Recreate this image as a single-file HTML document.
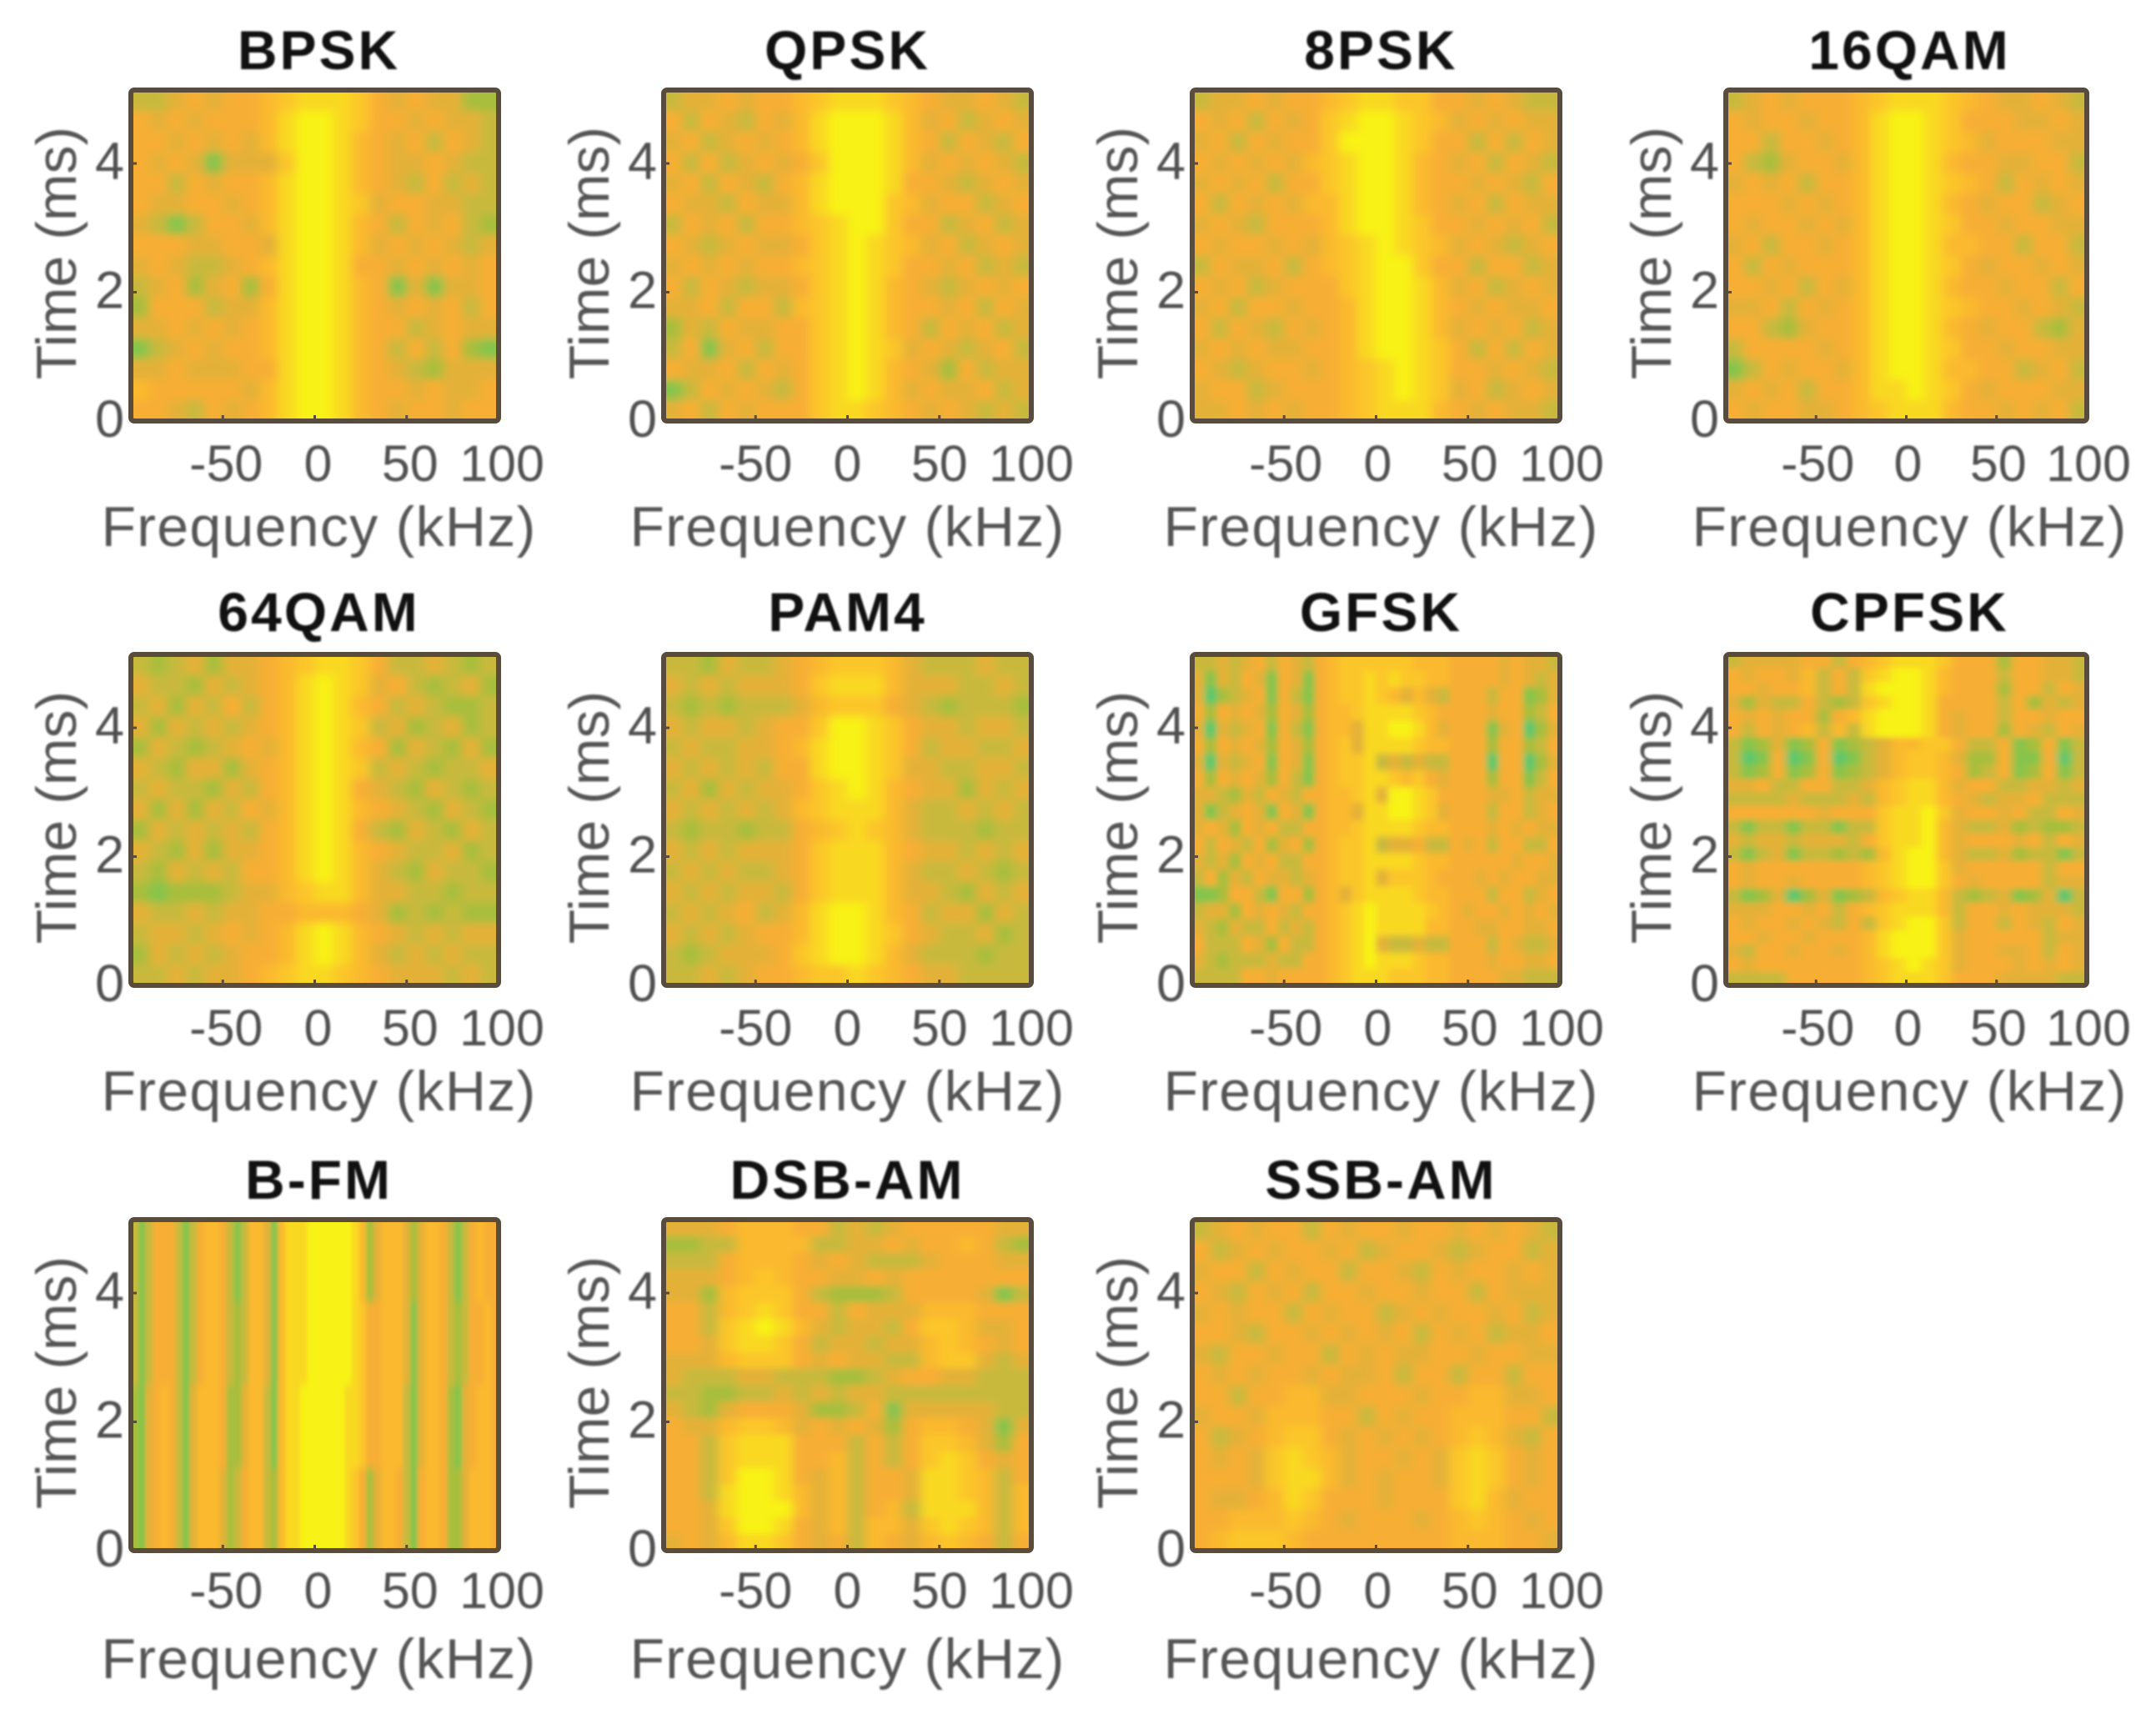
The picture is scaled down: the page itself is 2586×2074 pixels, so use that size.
<!DOCTYPE html>
<html lang="en">
<head>
<meta charset="utf-8">
<title>Spectrograms of modulation types</title>
<style>
html,body{margin:0;padding:0;background:#fff;width:2586px;height:2074px;overflow:hidden}
svg{display:block}
text{font-family:"Liberation Sans",Arial,sans-serif}
.tick{font-size:61px;fill:#505050}
.ytick{font-size:63px;fill:#505050}
.lab{font-size:68px;fill:#555;letter-spacing:1.3px}
.ylab{font-size:68px;fill:#555;letter-spacing:0}
.ttl{font-size:66px;font-weight:bold;fill:#111;letter-spacing:3px}
.soft{filter:blur(1.1px)}
</style>
</head>
<body>
<svg id="figure" xmlns="http://www.w3.org/2000/svg" width="2586" height="2074" viewBox="0 0 2586 2074"><defs id="defs"></defs></svg>
<script>
const panelTitles=["BPSK","QPSK","8PSK","16QAM","64QAM","PAM4","GFSK","CPFSK","B-FM","DSB-AM","SSB-AM"];
const freqTicks=[-50,0,50,100];
const timeTicks=[0,2,4];
const freqLimits=[-100,100];
const timeLimits=[0,5.14];
const colorScale=["#5cc86c","#86c44c","#a8be3e","#c8b93c","#e4b138","#f7ae34","#fab92f","#fbc62a","#f9d822","#f8f216"];

const bpskGrid=[
[3,3,4,5,4,5,5,6,7,8,8,8,7,5,4,5,4,4,2,2],
[5,4,5,4,5,5,5,6,8,9,9,8,7,5,5,4,5,4,4,3],
[5,5,4,5,4,5,4,6,8,9,9,8,6,5,4,5,3,5,4,3],
[5,4,5,4,1,4,4,4,7,9,9,8,6,5,4,4,5,4,3,3],
[5,5,3,5,4,5,5,6,8,9,9,8,6,5,4,3,5,3,4,3],
[5,4,4,5,5,4,5,6,8,9,9,8,7,4,5,5,4,4,3,3],
[4,3,1,3,5,5,4,6,8,9,9,8,6,5,3,5,4,5,3,2],
[5,5,5,4,4,5,5,4,8,9,9,8,6,4,5,4,5,4,3,4],
[4,5,4,3,3,4,5,6,8,9,9,8,5,5,4,5,4,5,4,5],
[3,4,5,2,4,5,2,5,8,9,9,8,6,5,1,4,1,4,4,5],
[2,5,5,5,3,4,4,6,8,9,9,8,6,5,4,5,4,5,3,5],
[4,4,5,4,5,4,5,6,8,9,9,8,6,5,5,3,4,5,4,4],
[1,3,4,5,4,5,5,6,8,9,9,8,6,5,3,5,3,5,2,1],
[4,4,5,4,4,4,5,5,8,9,9,8,6,5,4,3,2,4,4,4],
[6,5,5,5,5,5,4,6,8,9,9,8,6,5,5,4,5,4,4,5],
[5,5,4,3,5,4,5,6,8,9,9,8,6,5,4,5,5,4,5,5]];

const qpskGrid=[
[3,4,4,5,4,5,5,6,7,8,8,8,7,6,5,4,4,5,4,3],
[5,3,5,4,3,5,4,6,8,9,9,9,8,6,4,5,3,4,5,4],
[4,5,3,4,5,4,5,6,8,9,9,9,8,6,5,3,5,4,3,5],
[5,3,5,3,4,5,4,5,7,9,9,9,8,6,4,5,4,5,4,3],
[4,5,3,5,4,3,5,6,8,9,9,9,8,5,5,4,3,4,5,4],
[5,4,4,3,5,4,4,6,8,9,9,9,7,6,4,5,5,3,4,5],
[3,5,4,5,3,5,5,6,7,8,9,9,7,5,5,3,4,5,3,4],
[5,4,3,4,5,4,4,5,7,8,9,8,7,6,4,5,3,4,5,4],
[4,5,4,5,4,5,5,6,7,8,9,8,7,5,5,4,5,3,4,3],
[5,3,5,4,3,4,4,5,7,8,9,8,6,5,4,3,4,5,4,5],
[4,4,5,3,5,5,3,6,7,8,9,8,6,5,5,4,5,3,5,4],
[2,4,3,5,4,4,5,5,7,8,9,8,6,5,3,5,4,5,3,4],
[3,5,1,4,5,3,5,5,7,8,9,8,7,4,5,4,3,4,5,3],
[5,4,4,5,3,5,4,5,7,8,9,8,6,5,4,2,5,3,4,4],
[1,3,5,4,5,4,3,5,7,8,9,8,6,4,5,4,4,5,3,4],
[4,5,3,5,4,5,5,5,7,8,8,7,6,5,4,5,4,3,4,3]];

const psk8Grid=[
[3,4,4,5,4,5,5,6,7,8,8,7,7,5,5,4,5,4,3,3],
[5,4,5,3,5,4,5,7,8,9,9,8,7,6,4,5,4,5,4,4],
[4,5,3,5,4,5,5,7,9,9,9,8,7,5,5,3,5,3,5,4],
[5,4,5,4,5,4,6,7,8,9,9,8,6,5,4,5,3,5,4,3],
[4,5,4,5,3,5,5,7,8,9,9,8,6,5,5,4,5,4,3,5],
[5,3,5,4,5,4,6,6,8,9,9,8,6,5,4,5,3,5,4,4],
[4,5,4,3,5,5,5,6,8,9,9,8,7,5,5,4,5,4,5,3],
[5,4,5,5,4,5,4,6,7,8,9,8,7,6,4,5,4,3,4,5],
[3,5,4,4,5,3,5,6,7,8,9,9,7,5,5,3,5,5,3,4],
[5,4,5,3,4,5,5,5,7,8,9,9,8,6,4,5,3,4,5,4],
[4,5,3,5,5,4,5,5,6,8,9,9,8,6,5,4,5,4,4,5],
[5,3,5,4,3,5,4,5,6,8,9,9,8,6,4,5,4,5,3,4],
[4,5,4,5,4,4,5,5,6,8,9,9,8,7,5,3,5,3,5,4],
[5,4,3,4,5,5,4,5,6,7,8,9,8,7,5,5,4,5,4,3],
[4,5,5,3,4,5,5,5,6,7,8,9,8,7,4,5,3,4,5,4],
[4,4,5,4,5,4,5,5,6,7,8,8,8,6,5,4,5,4,4,3]];

const qam16Grid=[
[3,4,5,4,5,5,5,6,7,8,8,8,7,6,5,4,4,5,4,3],
[5,4,5,5,4,5,5,6,8,9,9,8,7,5,5,5,4,4,5,4],
[5,5,3,5,5,4,5,6,8,9,9,8,7,6,4,5,5,5,4,4],
[5,3,2,4,5,5,4,6,8,9,9,8,6,5,5,4,4,5,5,3],
[4,5,4,5,3,5,5,6,8,9,9,8,7,6,5,3,5,4,5,4],
[5,5,5,4,5,4,5,6,8,9,9,8,6,5,4,5,5,3,4,5],
[5,4,5,5,4,5,4,6,8,9,9,8,7,5,5,4,5,5,4,4],
[4,5,3,5,5,4,5,6,8,9,9,8,6,6,5,5,3,5,5,3],
[5,3,5,4,5,5,5,6,8,9,9,8,7,5,4,5,5,4,5,4],
[5,5,4,5,3,5,4,6,8,9,9,8,6,5,5,4,5,5,3,5],
[4,4,5,3,5,4,5,6,8,9,9,8,7,6,5,5,4,5,4,3],
[5,5,3,2,4,5,5,6,8,9,9,8,6,5,4,5,5,3,2,4],
[3,5,5,5,5,4,5,6,8,9,9,8,7,5,5,4,5,5,4,4],
[1,3,5,4,5,5,4,6,8,9,9,8,6,6,5,5,3,4,5,3],
[4,5,4,5,3,5,5,6,8,8,9,8,7,5,4,5,5,5,4,4],
[5,4,5,5,4,4,5,6,7,8,8,8,6,5,5,4,5,4,5,3]];

const qam64Grid=[
[3,2,3,4,2,4,4,5,6,7,8,8,7,5,3,3,4,3,2,3],
[4,3,3,2,4,3,4,5,6,8,9,8,7,4,5,3,2,3,4,2],
[3,4,2,4,3,5,3,5,6,8,9,8,6,5,3,4,3,2,2,3],
[4,2,4,3,4,3,4,5,6,8,9,8,7,3,4,2,3,4,2,3],
[2,4,3,2,3,4,5,4,6,8,9,8,6,5,2,4,3,2,4,2],
[4,3,2,4,4,2,4,5,6,8,9,8,7,3,4,3,2,3,3,4],
[3,4,3,3,2,4,3,5,6,8,9,8,5,4,3,2,4,3,2,3],
[4,2,4,2,4,3,5,4,6,8,9,8,6,5,4,3,2,4,3,2],
[2,4,3,4,3,4,3,5,6,8,9,8,5,3,2,4,3,2,4,3],
[4,3,2,4,2,4,4,5,6,8,9,8,6,5,4,3,3,4,2,3],
[3,2,4,3,4,3,5,5,6,8,9,8,6,4,3,2,4,3,3,2],
[2,1,2,2,2,3,4,4,6,7,8,8,6,4,4,3,3,2,3,3],
[4,3,3,4,3,4,4,5,5,6,6,6,5,4,2,3,2,3,2,2],
[3,4,4,3,4,5,4,5,6,8,9,8,6,5,4,3,4,3,4,4],
[2,4,3,4,3,4,5,5,6,8,9,8,6,4,3,4,3,4,3,3],
[3,3,4,3,4,4,5,6,7,8,8,7,6,5,4,4,4,3,4,3]];

const pam4Grid=[
[3,3,2,4,3,3,4,5,6,7,7,7,6,4,3,3,3,4,3,3],
[4,3,4,3,4,4,4,5,7,8,8,8,6,4,4,4,3,3,4,3],
[3,2,3,2,3,3,3,4,6,7,7,7,5,4,3,2,3,3,3,2],
[4,3,4,4,3,4,5,5,7,9,9,8,7,5,4,4,3,4,4,3],
[3,4,3,3,4,4,5,6,8,9,9,8,7,5,3,4,4,3,3,4],
[4,3,4,3,4,3,5,5,8,9,9,8,7,4,4,3,3,4,4,3],
[3,4,2,4,3,4,4,5,7,8,9,8,6,5,4,4,2,4,3,4],
[4,3,4,3,4,3,4,6,7,8,8,8,6,4,3,3,4,3,4,3],
[3,2,3,3,2,3,3,5,6,7,8,7,6,4,3,3,3,2,3,3],
[4,3,4,3,4,4,4,5,7,8,8,8,6,5,4,4,3,4,3,4],
[3,4,3,4,3,3,4,5,7,8,8,8,6,4,3,3,4,3,2,3],
[4,3,4,3,4,4,3,5,7,8,8,8,6,4,4,3,2,4,3,4],
[3,4,3,4,5,3,4,6,8,9,9,8,6,5,3,4,4,2,4,3],
[4,3,4,3,4,5,5,6,8,9,9,8,7,5,4,3,3,4,2,3],
[3,2,3,4,4,4,5,7,8,9,9,8,6,4,3,3,3,2,3,3],
[3,3,4,3,4,5,5,6,7,7,8,7,6,5,4,4,3,3,3,3]];

const gfskGrid=[
[3,3,4,3,4,5,3,5,4,3,5,6,7,7,7,7,7,7,6,6,6,5,5,5,5,4,5,4,4,3],
[4,1,4,3,5,4,1,5,4,1,5,6,7,7,8,7,8,7,7,6,6,5,5,5,5,4,5,4,3,4],
[4,0,2,3,4,5,1,5,3,1,5,6,7,7,8,7,6,4,6,4,3,5,5,5,3,5,5,1,2,4],
[5,2,5,4,5,4,2,5,4,2,5,6,6,7,8,8,8,8,7,6,5,5,5,5,4,5,5,2,3,5],
[4,0,4,3,4,5,1,5,3,1,5,6,6,4,8,8,9,9,8,6,4,5,5,5,1,4,5,0,2,4],
[5,2,5,4,5,4,2,5,4,2,5,6,7,4,8,8,8,8,7,6,6,5,5,5,2,5,5,2,3,5],
[4,0,4,3,4,5,1,5,4,1,5,6,7,7,8,3,4,3,4,3,3,5,5,5,0,5,5,0,2,4],
[5,2,5,4,5,4,2,5,3,1,5,6,7,7,8,8,7,6,7,5,4,5,5,5,2,5,5,1,3,5],
[4,4,3,2,4,3,5,4,3,5,5,6,6,7,8,4,9,9,8,7,5,5,5,5,4,4,5,3,4,4],
[4,1,3,4,5,4,1,5,4,1,5,6,6,4,8,8,9,9,8,7,4,5,5,5,3,5,5,3,4,5],
[4,5,4,2,5,4,5,3,3,5,5,6,6,7,8,8,8,8,7,6,6,5,5,5,4,5,4,5,4,4],
[5,3,5,4,3,5,2,4,5,2,5,6,7,7,8,3,4,4,5,3,3,5,4,5,3,5,5,3,3,5],
[4,3,4,2,5,4,5,3,3,5,5,6,7,7,8,8,8,8,7,6,6,5,5,5,5,5,4,5,5,4],
[3,5,2,4,3,5,4,4,3,4,5,6,7,7,8,4,7,7,7,6,5,5,5,4,5,4,5,5,4,4],
[1,1,2,5,5,3,1,5,5,2,5,6,4,7,8,8,8,8,7,6,6,5,5,5,3,5,5,3,4,5],
[3,4,4,2,5,4,5,4,3,5,5,6,7,8,9,8,8,8,8,7,6,5,4,5,5,4,5,4,5,4],
[4,3,2,4,3,3,5,3,4,3,5,6,7,8,9,8,8,8,8,6,6,5,5,4,4,5,5,4,4,5],
[5,3,3,3,5,4,2,5,3,3,5,6,7,8,9,4,3,3,4,3,3,5,5,5,3,5,4,3,3,4],
[4,3,2,3,3,3,4,3,3,5,5,6,7,8,9,8,8,8,7,6,6,5,5,5,4,5,5,4,4,5],
[3,3,3,3,5,5,4,5,5,5,5,6,7,8,8,8,7,7,7,6,6,5,5,5,5,4,4,3,3,3]];

const cpfskGrid=[
[3,4,4,4,4,5,5,3,5,6,7,8,8,8,7,5,5,5,2,5,5,4,4,3],
[5,4,5,5,4,6,3,5,3,7,8,9,9,8,6,5,5,5,3,5,5,4,4,3],
[5,5,4,5,5,6,3,5,3,8,9,9,9,8,6,5,5,5,2,5,5,3,5,4],
[4,2,4,3,3,5,3,2,3,7,8,9,9,8,5,5,5,5,3,5,2,4,3,4],
[5,4,5,4,5,5,2,5,6,8,9,9,9,8,5,4,5,5,3,5,5,4,5,5],
[5,3,5,4,5,6,3,6,3,8,9,9,9,8,5,4,5,5,2,5,4,3,5,4],
[3,1,2,4,1,2,5,1,2,3,4,6,6,7,7,5,3,3,5,1,2,5,1,3],
[3,0,1,5,0,1,5,0,1,3,4,6,7,7,6,4,2,2,5,1,1,5,0,3],
[3,1,2,5,1,2,5,1,2,3,4,6,7,7,6,5,2,3,5,1,2,5,1,3],
[4,4,5,3,3,5,5,3,3,4,6,7,8,8,6,4,5,5,3,3,4,4,3,4],
[3,3,3,3,4,3,3,3,4,3,6,7,8,8,6,5,4,3,4,4,5,3,3,3],
[5,5,5,5,5,5,4,5,5,5,7,8,8,9,7,4,5,5,4,5,3,3,5,4],
[3,1,3,3,1,3,3,1,3,3,7,8,8,9,6,4,3,3,4,2,3,2,2,3],
[4,3,4,4,3,4,4,4,3,5,7,8,8,9,6,4,5,5,5,4,5,3,5,4],
[3,1,3,4,1,3,3,2,3,2,6,8,9,9,6,4,3,3,4,2,3,3,1,3],
[5,4,5,5,5,5,5,5,5,6,7,8,9,9,7,4,5,5,5,5,5,3,5,5],
[5,4,5,5,4,5,5,5,5,6,7,8,9,9,7,5,4,5,5,5,5,3,4,4],
[3,1,2,4,0,2,4,1,2,3,6,7,8,8,6,3,2,3,4,1,2,4,0,3],
[4,4,4,5,5,4,5,3,5,6,7,8,8,8,6,3,5,5,4,5,4,4,4,3],
[5,4,5,5,4,5,4,3,5,3,7,8,9,9,7,3,5,5,3,5,4,3,5,4],
[5,5,4,5,5,4,5,5,5,6,8,9,9,9,7,4,5,5,5,5,5,3,4,4],
[4,3,5,5,4,5,5,4,5,6,8,9,9,9,7,4,5,5,4,4,5,3,5,4],
[5,4,5,5,5,5,5,5,5,6,7,8,9,8,7,4,5,5,5,4,5,4,5,4],
[3,3,3,3,5,5,5,5,5,6,7,8,8,8,7,5,5,5,4,4,4,4,3,3]];

const bfmGrid=[
[3,1,3,5,5,5,3,1,3,5,6,6,5,3,1,3,6,6,4,1,6,8,8,8,9,9,9,9,9,9,8,6,2,4,6,6,6,4,2,4,6,6,5,3,1,3,5,6,5,5],
[3,1,3,5,5,5,3,1,3,5,6,6,5,3,2,3,6,6,4,1,6,8,8,8,9,9,9,9,9,9,8,7,5,5,6,6,6,4,1,4,6,6,5,3,2,3,5,5,6,5],
[2,1,4,5,6,5,3,1,4,6,6,6,5,2,2,4,6,6,3,1,6,8,8,9,9,9,9,9,9,8,8,7,5,5,6,6,6,3,1,4,6,6,5,2,1,4,5,6,6,5],
[2,1,4,5,6,5,3,1,4,6,6,6,4,2,3,5,6,6,3,2,6,8,8,9,9,9,9,9,9,8,7,5,2,4,6,6,5,3,1,5,6,6,5,2,2,4,6,6,6,5]];

const dsbGrid=[
[4,4,4,5,6,6,6,5,5,3,4,3,4,5,5,5,5,5,4,4],
[2,2,3,3,6,6,6,6,3,3,4,4,5,4,5,5,6,5,3,2],
[3,3,3,5,6,6,6,5,4,5,4,3,3,3,4,5,5,5,4,4],
[4,4,4,5,6,7,6,5,5,4,4,5,4,5,5,5,5,5,5,5],
[4,4,2,6,7,7,7,5,3,2,2,2,3,5,5,5,5,4,1,3],
[5,5,3,6,7,8,7,5,5,3,5,4,4,4,6,6,6,5,5,5],
[5,5,3,7,8,9,8,6,4,3,4,4,3,5,7,7,6,4,4,5],
[5,5,4,7,8,8,7,5,3,4,4,3,4,4,6,7,6,5,4,5],
[4,4,4,6,7,7,7,5,4,5,4,4,3,3,6,7,7,4,3,4],
[4,3,3,3,4,4,3,3,3,2,2,3,4,5,5,4,4,3,3,3],
[3,3,2,2,3,3,4,3,4,3,4,4,3,3,3,3,3,3,3,3],
[4,3,2,4,5,5,5,4,2,2,3,5,1,4,4,4,4,4,3,3],
[5,4,4,6,7,7,6,4,5,4,5,4,2,5,6,6,5,4,1,4],
[5,5,3,7,8,8,8,5,5,5,3,5,3,5,7,7,6,4,2,5],
[5,5,3,7,8,8,8,5,5,6,3,5,3,5,7,8,7,5,4,5],
[5,5,3,7,9,9,8,5,4,6,3,5,5,4,8,8,7,6,3,5],
[5,5,3,8,9,9,8,6,4,6,3,5,5,4,8,8,7,6,3,6],
[5,5,4,8,9,9,9,6,4,6,3,5,6,3,8,8,8,6,3,6],
[5,5,4,7,9,9,8,5,4,6,3,6,6,4,7,8,7,6,3,6],
[4,5,4,6,8,8,7,5,4,5,3,6,5,4,6,7,6,5,3,5]];

const ssbGrid=[
[3,4,5,4,5,5,3,5,4,5,5,4,5,5,4,5,4,5,4,3],
[5,3,4,5,4,5,5,4,5,3,4,5,5,4,3,4,5,5,3,4],
[4,5,5,3,5,4,5,5,3,5,5,4,3,5,4,5,5,4,5,4],
[5,4,3,5,4,5,3,5,5,4,5,5,4,5,5,3,5,4,4,4],
[4,5,4,5,5,3,5,4,5,5,3,4,5,4,5,5,4,5,3,4],
[5,5,4,3,5,5,4,5,4,5,4,5,3,5,4,5,3,4,4,5],
[4,3,5,5,4,5,5,3,5,4,5,4,4,5,5,4,5,5,4,4],
[5,4,5,4,5,5,4,5,4,4,5,3,5,5,3,5,5,3,5,5],
[5,5,3,5,5,6,6,4,4,5,5,5,4,5,5,6,6,4,4,5],
[4,5,5,4,6,6,6,5,5,3,5,4,5,5,6,6,6,5,5,3],
[5,3,4,5,6,7,7,5,4,5,4,5,4,5,6,7,6,4,3,5],
[5,4,5,4,7,8,7,6,4,5,5,4,5,4,7,8,7,5,4,5],
[5,5,5,4,7,8,8,6,4,5,4,5,5,4,7,8,7,5,4,5],
[5,4,4,5,6,8,7,5,5,5,4,5,5,5,7,8,6,4,5,5],
[5,5,6,6,6,7,6,5,4,5,5,5,4,5,6,7,6,5,4,5],
[5,6,7,7,7,6,5,5,5,5,5,5,5,5,6,6,6,5,5,4]];

const panelGrids=[bpskGrid,qpskGrid,psk8Grid,qam16Grid,qam64Grid,pam4Grid,gfskGrid,cpfskGrid,bfmGrid,dsbGrid,ssbGrid];

const NS="http://www.w3.org/2000/svg";
const figure=document.getElementById("figure");
const defs=document.getElementById("defs");
const axesLeft=[157,796,1430,2070];
const axesWidth=[441,441,441,433];
const axesTop=[108,785,1463];
const axesH=397;
const labelShift=[5,0,6,4];
const tickShift=[4,0,2,2];
const titleGap=[25,28,25];
const tickGap=[72,72,69];
const labelGap=[150,150,153];

function xScale(left,w,v){return left+(v-freqLimits[0])/(freqLimits[1]-freqLimits[0])*w;}
function yScale(top,v){return top+axesH-(v-timeLimits[0])/(timeLimits[1]-timeLimits[0])*axesH;}
function make(tag,attrs,parent){
  const el=document.createElementNS(NS,tag);
  for(const k in attrs)el.setAttribute(k,attrs[k]);
  parent.appendChild(el);
  return el;
}

panelTitles.forEach(function(title,i){
  const c=i%4,r=Math.floor(i/4),L=axesLeft[c],W=axesWidth[c],T=axesTop[r],sh=labelShift[c];
  const grid=panelGrids[i],nr=grid.length,nc=grid[0].length;
  const slug=title.toLowerCase();

  const g=make("g",{},figure);
  
  

  const cp=make("clipPath",{id:"clip"+i},defs);
  make("rect",{x:L,y:T,width:W,height:axesH},cp);
  const bl=make("filter",{id:"blur"+i,x:"-10%",y:"-10%",width:"120%",height:"120%"},defs);
  make("feGaussianBlur",{stdDeviation:(W/nc*0.28).toFixed(1)+" "+Math.min(axesH/nr*0.2,5).toFixed(1)},bl);

  const clip=make("g",{"clip-path":"url(#clip"+i+")"},g);
  const hm=make("g",{filter:"url(#blur"+i+")","shape-rendering":"crispEdges"},clip);
  
  
  const fSpan=freqLimits[1]-freqLimits[0],tSpan=timeLimits[1]-timeLimits[0];
  grid.forEach(function(row,ri){
    row.forEach(function(val,ci){
      const f0=freqLimits[0]+fSpan*ci/nc,f1=freqLimits[0]+fSpan*(ci+1)/nc;
      const t1=timeLimits[1]-tSpan*ri/nr,t0=timeLimits[1]-tSpan*(ri+1)/nr;
      let x0=xScale(L,W,f0),x1=xScale(L,W,f1),y0=yScale(T,t1),y1=yScale(T,t0);
      if(ci===0)x0-=30;
      if(ci===nc-1)x1+=30;
      if(ri===0)y0-=30;
      if(ri===nr-1)y1+=30;
      const cell=make("rect",{x:x0.toFixed(2),y:y0.toFixed(2),width:(x1-x0+0.5).toFixed(2),height:(y1-y0+0.5).toFixed(2),fill:colorScale[val]},hm);
      
      
    });
  });

  const frame=make("rect",{x:L,y:T,width:W,height:axesH,rx:4,fill:"none",stroke:"#5a4c3c","stroke-width":6},g);
  
  

  const txt=make("g",{class:"soft"},g);

  freqTicks.forEach(function(v){
    const x=xScale(L,W,v);
    const tm=make("line",{x1:x,x2:x,y1:T+axesH,y2:T+axesH-7,stroke:"#5a4c3c","stroke-width":3},g);
    
    
    const t=make("text",{x:x+tickShift[c],y:T+axesH+tickGap[r],"text-anchor":"middle",class:"tick"},txt);
    t.textContent=String(v);
    
    
  });
  timeTicks.forEach(function(v){
    const y=yScale(T,v);
    const tm=make("line",{x1:L,x2:L+7,y1:y,y2:y,stroke:"#5a4c3c","stroke-width":3},g);
    
    
    const t=make("text",{x:L-8,y:y+19,"text-anchor":"end",class:"ytick"},txt);
    t.textContent=String(v);
    
    
  });

  const tt=make("text",{x:L+W/2+sh,y:T-titleGap[r],"text-anchor":"middle",class:"ttl"},txt);
  tt.textContent=title;
  
  

  const xl=make("text",{x:L+W/2+sh,y:T+axesH+labelGap[r],"text-anchor":"middle",class:"lab"},txt);
  xl.textContent="Frequency (kHz)";
  
  

  const yx=L-66,yy=T+axesH/2-3;
  const yl=make("text",{x:yx,y:yy,"text-anchor":"middle",class:"ylab",transform:"rotate(-90 "+yx+" "+yy+")"},txt);
  yl.textContent="Time (ms)";
  
  
});
</script>
</body>
</html>
